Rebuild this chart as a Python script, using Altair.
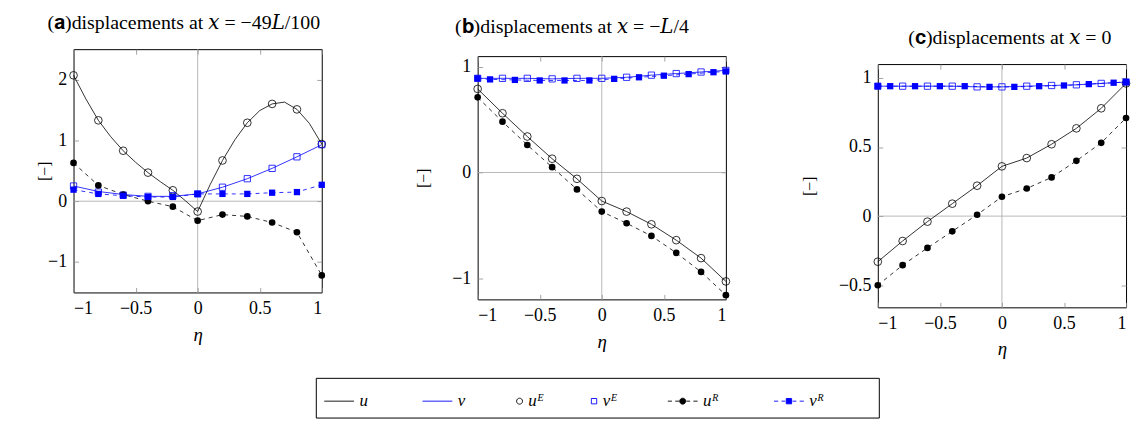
import altair as alt
import pandas as pd

SERIF = "Liberation Serif, DejaVu Serif, serif"
BLUE = "#0000ff"
GRID = "#a6a6a6"
NBSP = "\u00a0"
WJ = "\u2060"

# ---------------- data ----------------
eta_even = [-1.0, -0.8, -0.6, -0.4, -0.2, 0.0, 0.2, 0.4, 0.6, 0.8, 1.0]
eta_fine = [-1.0, -0.9, -0.8, -0.7, -0.6, -0.5, -0.4, -0.3, -0.2, -0.1, 0.0,
            0.1, 0.2, 0.3, 0.4, 0.5, 0.6, 0.7, 0.8, 0.9, 1.0]
eta_odd = [-1.0, -0.9, -0.7, -0.5, -0.3, -0.1, 0.1, 0.3, 0.5, 0.7, 0.9, 1.0]

xticks = [-1, -0.5, 0, 0.5, 1]
yticks_a = [-1, 0, 1, 2]
yticks_b = [-1, 0, 1]
yticks_c = [-0.5, 0, 0.5, 1]

# panel (a)  x = -49L/100
a_u = [2.07, 1.68, 1.33, 1.06, 0.83, 0.64, 0.47, 0.32, 0.18, 0.01, -0.17,
       0.27, 0.67, 1.01, 1.29, 1.49, 1.60, 1.63, 1.51, 1.28, 0.94]
a_v = [0.25, 0.16, 0.11, 0.08, 0.08, 0.12, 0.23, 0.37, 0.54, 0.73, 0.93]
a_uE = [2.07, 1.33, 0.83, 0.47, 0.18, -0.17, 0.67, 1.29, 1.60, 1.51, 0.94]
a_vE = [0.25, 0.15, 0.10, 0.08, 0.09, 0.12, 0.23, 0.37, 0.54, 0.73, 0.93]
a_uR = [0.63, 0.26, 0.11, 0.0, -0.09, -0.32, -0.22, -0.25, -0.35, -0.51, -1.22]
a_vR = [0.19, 0.12, 0.09, 0.07, 0.07, 0.12, 0.12, 0.12, 0.14, 0.15, 0.27]

# panel (b)  x = -L/4
b_u = [0.79, 0.56, 0.34, 0.13, -0.06, -0.27, -0.37, -0.49, -0.64, -0.81, -1.03]
b_v = [0.89, 0.89, 0.89, 0.885, 0.89, 0.89, 0.90, 0.92, 0.935, 0.95, 0.965]
b_uE = [0.79, 0.56, 0.34, 0.13, -0.06, -0.27, -0.37, -0.49, -0.64, -0.81, -1.03]
b_vE = [0.89, 0.89, 0.89, 0.885, 0.89, 0.89, 0.90, 0.92, 0.935, 0.95, 0.965]
b_uR = [0.71, 0.48, 0.26, 0.05, -0.16, -0.37, -0.48, -0.60, -0.76, -0.94, -1.16]
b_vR = [0.89, 0.88, 0.875, 0.87, 0.87, 0.87, 0.885, 0.90, 0.915, 0.93, 0.948, 0.955]

# panel (c)  x = 0
c_u = [-0.33, -0.18, -0.04, 0.09, 0.22, 0.36, 0.42, 0.52, 0.635, 0.78, 0.96]
c_v = [0.94, 0.94, 0.94, 0.94, 0.935, 0.935, 0.94, 0.945, 0.95, 0.96, 0.97]
c_uE = [-0.33, -0.18, -0.04, 0.09, 0.22, 0.36, 0.42, 0.52, 0.635, 0.78, 0.96]
c_vE = [0.94, 0.94, 0.94, 0.94, 0.935, 0.935, 0.94, 0.945, 0.95, 0.96, 0.97]
c_uR = [-0.50, -0.355, -0.23, -0.11, 0.01, 0.14, 0.20, 0.28, 0.40, 0.53, 0.71]
c_vR = [0.94, 0.94, 0.94, 0.94, 0.94, 0.935, 0.935, 0.94, 0.945, 0.955, 0.965, 0.97]

titles = {
    "a": "(𝐚)displacements at 𝑥 = −49𝐿/100",
    "b": "(𝐛)displacements at 𝑥 = −𝐿/4",
    "c": "(𝐜)displacements at 𝑥 = 0",
}

series_keys = ["u", "v", "uᴱ", "vᴱ", "uᴿ", "vᴿ"]

rows = []


def add(panel, series, etas, vals):
    for e, val in zip(etas, vals):
        rows.append({"panel": panel, "series": series, "eta": e, "value": val})


add("a", "u", eta_fine, a_u)
add("a", "v", eta_even, a_v)
add("a", "uᴱ", eta_even, a_uE)
add("a", "vᴱ", eta_even, a_vE)
add("a", "uᴿ", eta_even, a_uR)
add("a", "vᴿ", eta_even, a_vR)
add("b", "u", eta_even, b_u)
add("b", "v", eta_even, b_v)
add("b", "uᴱ", eta_even, b_uE)
add("b", "vᴱ", eta_even, b_vE)
add("b", "uᴿ", eta_even, b_uR)
add("b", "vᴿ", eta_odd, b_vR)
add("c", "u", eta_even, c_u)
add("c", "v", eta_even, c_v)
add("c", "uᴱ", eta_even, c_uE)
add("c", "vᴱ", eta_even, c_vE)
add("c", "uᴿ", eta_even, c_uR)
add("c", "vᴿ", eta_odd, c_vR)
df = pd.DataFrame(rows)

# ---------------- legend symbols ----------------
def circ(cx, r):
    return f"M{cx + r},0A{r},{r},0,1,1,{cx - r},0A{r},{r},0,1,1,{cx + r},0Z"


def sq(cx, h):
    return f"M{cx - h},{-h}H{cx + h}V{h}H{cx - h}Z"


dashes = "M-1,0H-0.72M-0.5,0H-0.24M0.24,0H0.5M0.72,0H1"
sym_paths = [
    "M-1,0H1",
    "M-1,0H1",
    circ(0.78, 0.2),
    sq(0.78, 0.18),
    dashes + circ(0, 0.2),
    dashes + sq(0, 0.18),
]
sym_stroke = ["black", BLUE, "black", BLUE, "black", BLUE]
sym_fill = ["transparent", "transparent", "transparent", "transparent", "black", BLUE]
pads = {"u": 10, "v": 4, "uᴱ": 3, "vᴱ": 9, "uᴿ": 10, "vᴿ": 11}
label_expr = "".join(
    f"datum.label === '{k}' ? '{k}{NBSP * n}{WJ}' : " for k, n in pads.items()
) + "datum.label"

legend = alt.Legend(
    orient="none", legendX=244, legendY=370, direction="horizontal",
    columns=6, gridAlign="none", columnPadding=10, symbolSize=900,
    symbolStrokeWidth=0.9, symbolOpacity=1, labelFont=SERIF,
    labelFontStyle="italic", labelFontSize=17, labelOffset=5,
    labelExpr=label_expr, labelColor="black", strokeColor="black",
    padding=8, fillColor="white", title=None, labelLimit=300,
)


def make_panel(key, ydom, yticks, tdx, toff, ytitle_x, right_space, with_legend=False):
    d = df[df.panel == key]
    base = alt.Chart(d)
    xs = alt.Scale(domain=[-1, 1], nice=False, zero=False)
    ys = alt.Scale(domain=ydom, nice=False, zero=False)

    def X(axis=None):
        return alt.X("eta:Q", scale=xs, axis=axis)

    def Y(axis=None):
        return alt.Y("value:Q", scale=ys, axis=axis)

    ax_bottom = alt.Axis(orient="bottom", values=xticks, format="~g", offset=-5,
                         tickSize=5, domain=False, grid=False, labelPadding=7,
                         title="η", titleFontStyle="italic", titleFontSize=19,
                         titlePadding=8)
    ax_left = alt.Axis(orient="left", values=yticks, format="~g", offset=-5,
                       tickSize=5, domain=False, grid=False, labelPadding=7,
                       title="[−]", titleFontSize=16, titleX=ytitle_x,
                       titleBaseline="middle")
    ax_top = alt.Axis(orient="top", values=xticks, offset=-5, tickSize=5,
                      domain=False, grid=False, labels=False, title=None)
    # right axis: inward ticks + an invisible spacer that widens the panel
    ax_right = alt.Axis(orient="right", values=yticks, offset=-5, tickSize=5,
                        domain=False, grid=False, labels=False, title=".",
                        titleOpacity=0, titleFontSize=10, titleAngle=0,
                        titleAlign="right", titleBaseline="middle",
                        titleX=right_space)

    zero_v = alt.Chart(pd.DataFrame({"eta": [0.0]})).mark_rule(
        color=GRID, strokeWidth=0.8).encode(x=X())
    zero_h = alt.Chart(pd.DataFrame({"value": [0.0]})).mark_rule(
        color=GRID, strokeWidth=0.8).encode(y=Y())

    def line(series, color, dash=None, xa=None, ya=None):
        mk = dict(color=color, strokeWidth=0.8)
        if dash:
            mk["strokeDash"] = dash
        return base.transform_filter(alt.datum.series == series).mark_line(**mk).encode(
            x=X(xa), y=Y(ya))

    def pts(series, shape, filled, color, size):
        return base.transform_filter(alt.datum.series == series).mark_point(
            shape=shape, filled=filled, color=color, size=size, strokeWidth=0.8,
            opacity=1).encode(x=X(), y=Y())

    layers = [
        zero_v, zero_h,
        line("u", "black", xa=ax_bottom, ya=ax_left),
        line("v", BLUE, xa=ax_top, ya=ax_right),
        line("uᴿ", "black", dash=[4, 4]),
        line("vᴿ", BLUE, dash=[4, 4]),
        pts("uᴱ", "circle", False, "black", 60),
        pts("vᴱ", "square", False, BLUE, 40),
        pts("uᴿ", "circle", True, "black", 45),
        pts("vᴿ", "square", True, BLUE, 40),
    ]
    if with_legend:
        leg = base.mark_point(opacity=0, filled=True).encode(
            x=X(), y=Y(),
            shape=alt.Shape("series:N", scale=alt.Scale(domain=series_keys, range=sym_paths), legend=legend),
            stroke=alt.Stroke("series:N", scale=alt.Scale(domain=series_keys, range=sym_stroke), legend=legend),
            fill=alt.Fill("series:N", scale=alt.Scale(domain=series_keys, range=sym_fill), legend=legend),
        )
        layers.append(leg)

    return alt.layer(*layers).resolve_axis(x="independent", y="independent").properties(
        width=250, height=245,
        title=alt.TitleParams(titles[key], frame="group", anchor="middle", dx=tdx,
                              offset=toff, baseline="alphabetic", fontSize=20,
                              font=SERIF, fontWeight="normal", color="black"),
    )


def spacer(h):
    sp = pd.DataFrame({"sx": [0.0, 1.0], "sy": [0.0, 1.0]})
    return alt.Chart(sp).mark_point(opacity=0, size=1).encode(
        x=alt.X("sx:Q", axis=None, scale=alt.Scale(domain=[0, 1])),
        y=alt.Y("sy:Q", axis=None, scale=alt.Scale(domain=[0, 1])),
    ).properties(width=250, height=h, view=alt.ViewBackground(stroke="transparent"))


pa = make_panel("a", [-1.5, 2.5], yticks_a, -14, 0, -34, 28, with_legend=True)
pb = make_panel("b", [-1.2, 1.1], yticks_b, -30, 3, -60, 5)
pc = make_panel("c", [-0.66, 1.1], yticks_c, 8, 0, -74, 5)

col_a = alt.vconcat(spacer(1), pa, spacing=0)
col_b = alt.vconcat(spacer(5), pb, spacing=0)
col_c = alt.vconcat(spacer(16), pc, spacing=0)

chart = alt.hconcat(col_a, col_b, col_c, spacing=69).properties(
    padding={"left": 28, "top": 0, "right": 0, "bottom": 0}
).configure_view(stroke="black", strokeWidth=1).configure_axis(
    labelFont=SERIF, titleFont=SERIF, labelFontSize=18, labelColor="black",
    titleColor="black", titleFontWeight="normal", tickColor="#8c8c8c", tickWidth=0.8,
)

chart.save("out.html", embed_options={"renderer": "svg", "actions": False})
